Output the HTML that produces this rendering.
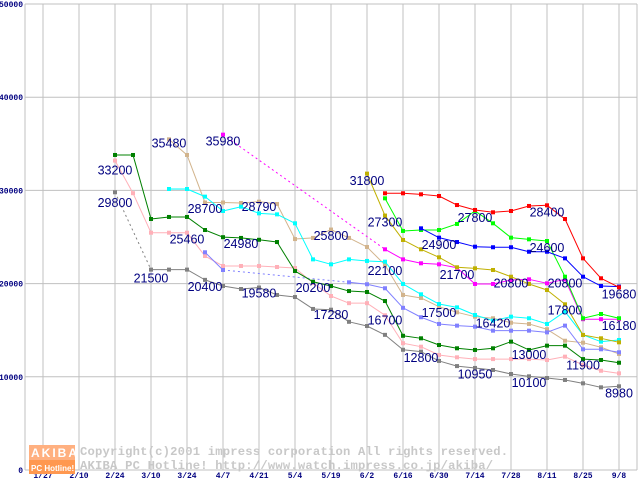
<!DOCTYPE html>
<html><head><meta charset="utf-8"><style>
html,body{margin:0;padding:0;background:#fff;}
svg{display:block;}
.ax{font-family:"Liberation Mono",monospace;font-size:8px;font-weight:bold;fill:#000080;}
.lb{font-family:"Liberation Sans",sans-serif;font-size:12.5px;fill:#000080;}
.cp{font-family:"Liberation Mono",monospace;font-size:12.2px;fill:#c8c8c8;font-weight:bold;letter-spacing:0.2px;}
</style></head><body>
<svg id="chart" width="640" height="480" xmlns="http://www.w3.org/2000/svg">
<g id="grid"></g>
<g id="axes"></g>
<g id="series"></g>
<g id="labels"></g>
<g>
<rect x="29" y="445" width="46" height="15" fill="#ffb080"/>
<rect x="29" y="460" width="46" height="14" fill="#ff9850"/>
<text x="31" y="457" font-family="Liberation Sans,sans-serif" font-size="12" font-weight="bold" fill="#fff" letter-spacing="2">AKIBA</text>
<text x="31" y="471" font-family="Liberation Sans,sans-serif" font-size="8" font-weight="bold" fill="#fff">PC Hotline!</text>
<text class="cp" x="80" y="455">Copyright(c)2001 impress corporation All rights reserved.</text>
<text class="cp" x="80" y="469">AKIBA PC Hotline!  http://www.watch.impress.co.jp/akiba/</text>
</g>
</svg>
<script>
const dates=["1/27","2/3","2/10","2/17","2/24","3/3","3/10","3/17","3/24","3/31","4/7","4/14","4/21","4/28","5/5","5/12","5/19","5/26","6/2","6/9","6/16","6/23","6/30","7/7","7/14","7/21","7/28","8/4","8/11","8/18","8/25","9/1","9/8"];
const tickLabels=["1/27","2/10","2/24","3/10","3/24","4/7","4/21","5/4","5/19","6/2","6/16","6/30","7/14","7/28","8/11","8/25","9/8"];
const yTicks=[0,10000,20000,30000,40000,50000];
const N=null;
const grayVals=[N,N,N,N,29800,N,21500,21500,21500,20400,19740,19420,19580,18780,18560,17280,17200,15900,15450,14500,12900,12700,11700,11150,10950,10730,10300,10050,9870,9660,9300,8870,8980];
const pinkVals=[N,N,N,N,33200,29700,25460,25460,25460,22960,21890,21890,21890,21780,21670,20060,18670,17900,17900,16600,13600,13230,12340,12090,11900,11900,11900,11900,11800,12160,11270,10650,10370];
const dgreenVals=[N,N,N,N,33800,33800,26930,27150,27150,25750,24980,24900,24700,24460,21350,20200,19740,19200,19100,18130,14400,14130,13410,13060,12880,13060,13770,12880,13340,13340,11900,11800,11510];
const tanVals=[N,N,N,N,N,N,N,35480,33800,28700,28700,28650,28790,28540,24780,24900,25800,24900,23930,22000,18780,18460,17520,16920,16450,16280,15800,15670,15100,13870,13660,13170,12450];
const cyanVals=[N,N,N,N,N,N,N,30150,30150,29330,27790,28250,27540,27430,26470,22600,22070,22600,22430,22350,19960,18850,17810,17450,16630,16020,16450,16280,15670,17000,14490,13770,13950];
const periVals=[N,N,N,N,N,N,N,N,N,23360,21460,N,N,N,N,N,N,20140,19930,19500,17400,16390,15670,15490,15380,14950,14950,14950,14770,15490,12950,12950,12630];
const magentaVals=[N,N,N,N,N,N,N,N,N,N,35980,N,N,N,N,N,N,N,N,23680,22600,22180,22070,21700,19960,19960,20390,20460,20030,20460,16180,16180,16180];
const oliveVals=[N,N,N,N,N,N,N,N,N,N,N,N,N,N,N,N,N,N,31800,27300,24680,23680,22820,21750,21640,21460,20740,19960,19310,17780,14490,14130,13700];
const lgreenVals=[N,N,N,N,N,N,N,N,N,N,N,N,N,N,N,N,N,N,N,29150,25650,25750,25750,26400,27800,26470,24930,24750,24570,20740,16280,16740,16280];
const blueVals=[N,N,N,N,N,N,N,N,N,N,N,N,N,N,N,N,N,N,N,N,N,25930,24930,24460,23960,23900,23900,23420,23420,22710,20740,19740,19680];
const redVals=[N,N,N,N,N,N,N,N,N,N,N,N,N,N,N,N,N,N,N,29690,29690,29580,29400,28430,27900,27650,27790,28330,28400,26930,22710,20570,19600];
const labelTexts=["33200","29800","35480","35980","21500","25460","28700","24980","28790","20400","19580","25800","20200","17280","31800","27300","22100","16700","24900","21700","17500","12800","27800","16420","10950","20800","13000","10100","28400","24600","20800","17800","11900","19680","16180","8980"];
const labelIdx=[4,4,7,10,6,8,9,11,12,9,12,16,15,16,18,19,19,19,22,23,22,21,24,25,24,26,27,27,28,28,29,29,30,32,32,32];
const labelVals=[31700,28200,34600,34800,20100,24300,27600,23800,27800,19200,18500,24700,19100,16200,30600,26100,20900,15600,23700,20500,16400,11600,26600,15300,9800,19600,11900,8900,27200,23400,19600,16700,10800,18400,15000,7800];

const colors={gray:"#808080",pink:"#ffb0b8",dgreen:"#008000",tan:"#d2b48c",cyan:"#00ffff",peri:"#8080ff",magenta:"#ff00ff",olive:"#c0b000",lgreen:"#00ff00",blue:"#0000ff",red:"#ff0000"};
const NS="http://www.w3.org/2000/svg";
function xs(i){return 43+18*i;}
function ys(v){return 470-v*0.00932;}
function mk(tag,attrs,parent){const e=document.createElementNS(NS,tag);for(const k in attrs)e.setAttribute(k,attrs[k]);parent.appendChild(e);return e;}
const grid=document.getElementById('grid'),axes=document.getElementById('axes'),ser=document.getElementById('series'),lab=document.getElementById('labels');
yTicks.forEach(v=>{
  const l=mk('line',{x1:25,x2:637,y1:ys(v),y2:ys(v),stroke:'#c0c0c0','stroke-width':1},grid);
  
  
  const t=mk('text',{x:23,y:ys(v)+3,'text-anchor':'end',class:'ax'},axes);
  t.textContent=v;
  
  
});
mk('line',{x1:25,x2:25,y1:4,y2:470,stroke:'#c0c0c0'},grid);
mk('line',{x1:637,x2:637,y1:4,y2:470,stroke:'#c0c0c0'},grid);
tickLabels.forEach(d=>{
  const i=dates.indexOf(d)>=0?dates.indexOf(d):(dates.indexOf("5/5"));
  const l=mk('line',{x1:xs(i),x2:xs(i),y1:4,y2:470,stroke:'#c0c0c0'},grid);
  
  
  const t=mk('text',{x:xs(i),y:478,'text-anchor':'middle',class:'ax'},axes);
  t.textContent=d;
  
  
});
function drawSeries(vals,color,name){
  const g=mk('g',{},ser);
  
  
  let prev=-1;
  for(let i=0;i<vals.length;i++){
    if(vals[i]===null)continue;
    if(prev>=0){
      const gap=i-prev>1;
      const a={x1:xs(prev),y1:ys(vals[prev]),x2:xs(i),y2:ys(vals[i]),stroke:color,'stroke-width':1};
      if(gap)a['stroke-dasharray']='2,3';
      mk('line',a,g);
    }
    prev=i;
  }
  vals.forEach((v,i)=>{
    if(v===null)return;
    const r=mk('rect',{x:xs(i)-2,y:ys(v)-2,width:4,height:4,fill:color},g);
    
    
  });
}
drawSeries(grayVals,colors.gray,'series-gray');
drawSeries(pinkVals,colors.pink,'series-pink');
drawSeries(tanVals,colors.tan,'series-tan');
drawSeries(cyanVals,colors.cyan,'series-cyan');
drawSeries(periVals,colors.peri,'series-periwinkle');
drawSeries(dgreenVals,colors.dgreen,'series-dark-green');
drawSeries(magentaVals,colors.magenta,'series-magenta');
drawSeries(oliveVals,colors.olive,'series-olive');
drawSeries(lgreenVals,colors.lgreen,'series-light-green');
drawSeries(blueVals,colors.blue,'series-blue');
drawSeries(redVals,colors.red,'series-red');
labelTexts.forEach((s,k)=>{
  const t=mk('text',{x:xs(labelIdx[k]),y:ys(labelVals[k]),'text-anchor':'middle',class:'lb'},lab);
  t.textContent=s;
  
  
});
</script>
</body></html>
